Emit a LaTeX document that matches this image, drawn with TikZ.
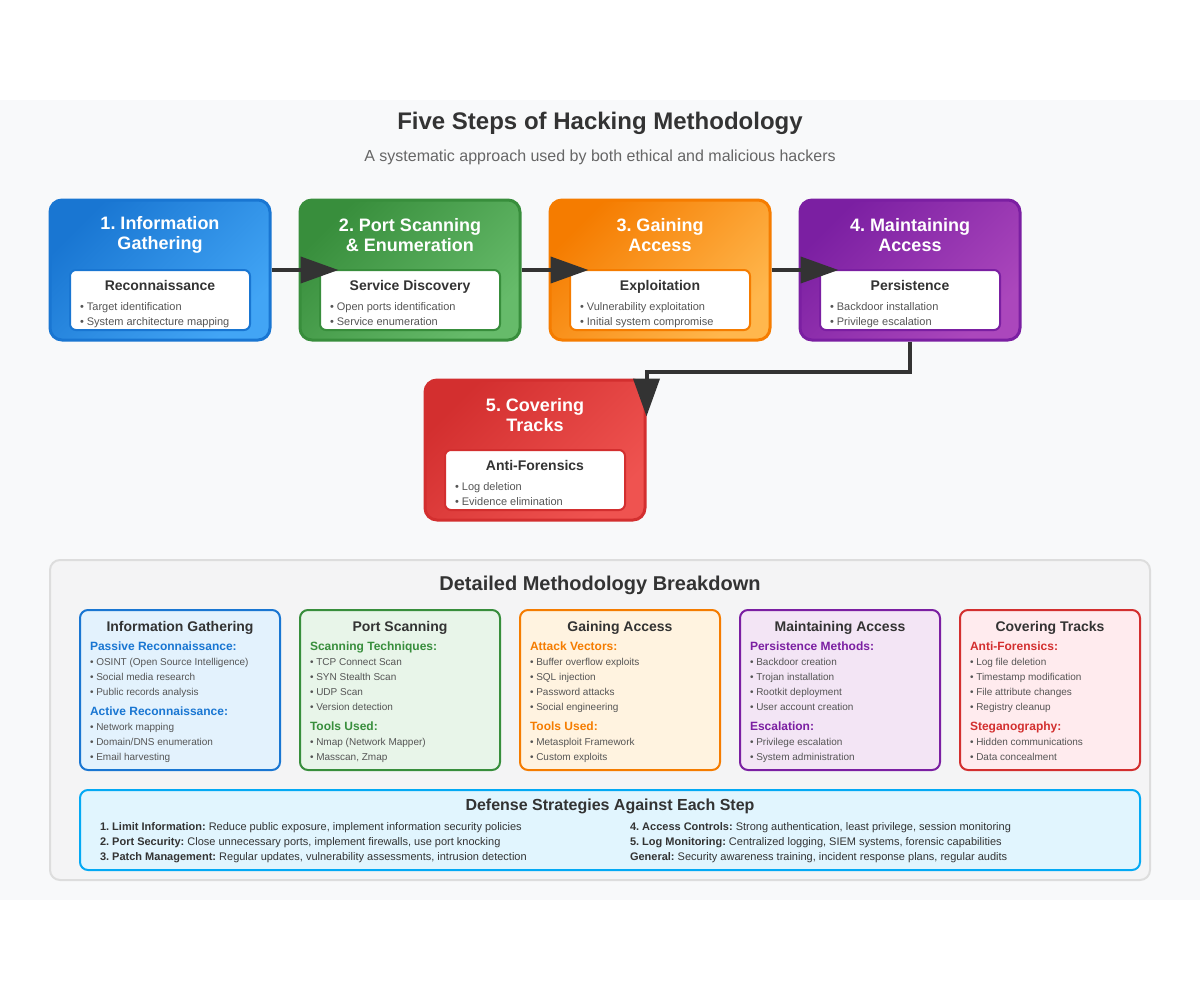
\documentclass[tikz,border=0pt]{standalone}
\usepackage{fontspec}
\setmainfont{Liberation Sans}
\usetikzlibrary{arrows.meta,calc}
\frenchspacing

\definecolor{ink}{HTML}{333333}
\definecolor{soft}{HTML}{666666}
\definecolor{dot}{HTML}{555555}
\definecolor{pagebg}{HTML}{F8F9FA}
\definecolor{panelbg}{HTML}{F4F4F5}
\definecolor{panelrule}{HTML}{DDDDDD}
\definecolor{bluedk}{HTML}{1976D2}
\definecolor{bluelt}{HTML}{42A5F5}
\definecolor{greendk}{HTML}{388E3C}
\definecolor{greenlt}{HTML}{66BB6A}
\definecolor{orangedk}{HTML}{F57C00}
\definecolor{orangelt}{HTML}{FFB74D}
\definecolor{purpledk}{HTML}{7B1FA2}
\definecolor{purplelt}{HTML}{AB47BC}
\definecolor{reddk}{HTML}{D32F2F}
\definecolor{redlt}{HTML}{EF5350}
\definecolor{bluebg}{HTML}{E3F2FD}
\definecolor{greenbg}{HTML}{E8F5E9}
\definecolor{orangebg}{HTML}{FFF3E0}
\definecolor{purplebg}{HTML}{F3E5F5}
\definecolor{redbg}{HTML}{FFEBEE}
\definecolor{cyanbg}{HTML}{E1F5FE}
\definecolor{cyandk}{HTML}{03A9F4}

% one step card: name, x, y, dark, light, title, subtitle, bullet 1, bullet 2
\newcommand\stepcard[9]{%
  \node[stepbox={#4}{#5}] (#1) at (#2,#3) {};
  \node[steptitle] (#1-title) at ($(#1)+(0,-35)$) {#6};
  \node[innerbox=#4] (#1-inner) at ($(#1)+(0,30)$) {};
  \node[innertitle] (#1-head) at ($(#1)+(0,17)$) {#7};
  \node[stepitem] (#1-b1) at ($(#1)+(-80,37)$) {• #8};
  \node[stepitem] (#1-b2) at ($(#1)+(-80,52)$) {• #9};
}
% one line of a breakdown card: name, x, y, text
\newcommand\ditem[4]{\node[detitem] (#1) at (#2,#3) {• #4};}
\newcommand\dhead[5]{\node[dethead, text=#5] (#1) at (#2,#3) {#4};}

\begin{document}
\begin{tikzpicture}[x=0.75pt,y=-0.75pt,
  txt/.style={inner sep=0pt, outer sep=0pt},
  stepbox/.style 2 args={draw=#1, line width=2.25pt, rounded corners=9pt,
    minimum width=165pt, minimum height=105pt, inner sep=0pt,
    left color=#1, right color=#2, shading angle=45},
  steptitle/.style={txt, text=white, align=center,
    font=\bfseries\fontsize{13.5}{15}\selectfont},
  innerbox/.style={draw=#1, fill=white, line width=1.5pt, rounded corners=4.5pt,
    minimum width=135pt, minimum height=45pt, inner sep=0pt},
  innertitle/.style={txt, text=ink, anchor=mid, font=\bfseries\fontsize{10.5}{12}\selectfont},
  stepitem/.style={txt, text=dot, anchor=mid west, font=\fontsize{8.25}{10}\selectfont},
  detbox/.style 2 args={draw=#1, fill=#2, line width=1.5pt, rounded corners=6pt,
    minimum height=120pt, inner sep=0pt},
  dettitle/.style={txt, text=ink, anchor=mid, font=\bfseries\fontsize{10.5}{12}\selectfont},
  dethead/.style={txt, anchor=mid west, font=\bfseries\fontsize{9}{11}\selectfont},
  detitem/.style={txt, text=dot, anchor=mid west, font=\fontsize{7.5}{9}\selectfont},
  defline/.style={txt, text=ink, anchor=mid west, font=\fontsize{8.25}{10}\selectfont},
  flow/.style={draw=ink, line width=3pt, -{Triangle[length=28.5pt,width=19.5pt]}}
]
\useasboundingbox (0,0) rectangle (1200,1000);
\fill[white] (0,0) rectangle (1200,1000);
\fill[pagebg] (0,100) rectangle (1200,900);

% heading
\node[txt, text=ink, anchor=mid, font=\bfseries\fontsize{18}{22}\selectfont] (title) at (600,126)
  {Five Steps of Hacking Methodology};
\node[txt, text=soft, anchor=mid, font=\fontsize{12}{14}\selectfont] (subtitle) at (600,158)
  {A systematic approach used by both ethical and malicious hackers};

% the five steps
\stepcard{s1}{160}{270}{bluedk}{bluelt}{1. Information\\Gathering}{Reconnaissance}
  {Target identification}{System architecture mapping}
\stepcard{s2}{410}{270}{greendk}{greenlt}{2. Port Scanning\\\& Enumeration}{Service Discovery}
  {Open ports identification}{Service enumeration}
\stepcard{s3}{660}{270}{orangedk}{orangelt}{3. Gaining\\Access}{Exploitation}
  {Vulnerability exploitation}{Initial system compromise}
\stepcard{s4}{910}{270}{purpledk}{purplelt}{4. Maintaining\\Access}{Persistence}
  {Backdoor installation}{Privilege escalation}
\stepcard{s5}{535}{450}{reddk}{redlt}{5. Covering\\Tracks}{Anti-Forensics}
  {Log deletion}{Evidence elimination}

% flow between the steps
\draw[flow] (s1.east) -- ($(s2.west)+(40,0)$);
\draw[flow] (s2.east) -- ($(s3.west)+(40,0)$);
\draw[flow] (s3.east) -- ($(s4.west)+(40,0)$);
\draw[flow] (s4.south) -- ++(0,30) -| ($(s5.north east)+(0,38)$);

% breakdown panel
\node[draw=panelrule, fill=panelbg, line width=1.5pt, rounded corners=7.5pt,
  minimum width=825pt, minimum height=240pt, inner sep=0pt] (panel) at (600,720) {};
\node[txt, text=ink, anchor=mid, font=\bfseries\fontsize{15}{18}\selectfont] (paneltitle)
  at (600,587) {Detailed Methodology Breakdown};

% card 1
\node[detbox={bluedk}{bluebg}, minimum width=150pt] (d1) at (180,690) {};
\node[dettitle] (d1-title) at (180,628) {Information Gathering};
\dhead{d1-h1}{90}{647}{Passive Reconnaissance:}{bluedk}
\ditem{d1-a}{90}{662}{OSINT (Open Source Intelligence)}
\ditem{d1-b}{90}{677}{Social media research}
\ditem{d1-c}{90}{692}{Public records analysis}
\dhead{d1-h2}{90}{712}{Active Reconnaissance:}{bluedk}
\ditem{d1-d}{90}{727}{Network mapping}
\ditem{d1-e}{90}{742}{Domain/DNS enumeration}
\ditem{d1-f}{90}{757}{Email harvesting}

% card 2
\node[detbox={greendk}{greenbg}, minimum width=150pt] (d2) at (400,690) {};
\node[dettitle] (d2-title) at (400,628) {Port Scanning};
\dhead{d2-h1}{310}{647}{Scanning Techniques:}{greendk}
\ditem{d2-a}{310}{662}{TCP Connect Scan}
\ditem{d2-b}{310}{677}{SYN Stealth Scan}
\ditem{d2-c}{310}{692}{UDP Scan}
\ditem{d2-d}{310}{707}{Version detection}
\dhead{d2-h2}{310}{727}{Tools Used:}{greendk}
\ditem{d2-e}{310}{742}{Nmap (Network Mapper)}
\ditem{d2-f}{310}{757}{Masscan, Zmap}

% card 3
\node[detbox={orangedk}{orangebg}, minimum width=150pt] (d3) at (620,690) {};
\node[dettitle] (d3-title) at (620,628) {Gaining Access};
\dhead{d3-h1}{530}{647}{Attack Vectors:}{orangedk}
\ditem{d3-a}{530}{662}{Buffer overflow exploits}
\ditem{d3-b}{530}{677}{SQL injection}
\ditem{d3-c}{530}{692}{Password attacks}
\ditem{d3-d}{530}{707}{Social engineering}
\dhead{d3-h2}{530}{727}{Tools Used:}{orangedk}
\ditem{d3-e}{530}{742}{Metasploit Framework}
\ditem{d3-f}{530}{757}{Custom exploits}

% card 4
\node[detbox={purpledk}{purplebg}, minimum width=150pt] (d4) at (840,690) {};
\node[dettitle] (d4-title) at (840,628) {Maintaining Access};
\dhead{d4-h1}{750}{647}{Persistence Methods:}{purpledk}
\ditem{d4-a}{750}{662}{Backdoor creation}
\ditem{d4-b}{750}{677}{Trojan installation}
\ditem{d4-c}{750}{692}{Rootkit deployment}
\ditem{d4-d}{750}{707}{User account creation}
\dhead{d4-h2}{750}{727}{Escalation:}{purpledk}
\ditem{d4-e}{750}{742}{Privilege escalation}
\ditem{d4-f}{750}{757}{System administration}

% card 5
\node[detbox={reddk}{redbg}, minimum width=135pt] (d5) at (1050,690) {};
\node[dettitle] (d5-title) at (1050,628) {Covering Tracks};
\dhead{d5-h1}{970}{647}{Anti-Forensics:}{reddk}
\ditem{d5-a}{970}{662}{Log file deletion}
\ditem{d5-b}{970}{677}{Timestamp modification}
\ditem{d5-c}{970}{692}{File attribute changes}
\ditem{d5-d}{970}{707}{Registry cleanup}
\dhead{d5-h2}{970}{727}{Steganography:}{reddk}
\ditem{d5-e}{970}{742}{Hidden communications}
\ditem{d5-f}{970}{757}{Data concealment}

% defence strategies
\node[draw=cyandk, fill=cyanbg, line width=1.5pt, rounded corners=6pt,
  minimum width=795pt, minimum height=60pt, inner sep=0pt] (defense) at (610,830) {};
\node[txt, text=ink, anchor=mid, font=\bfseries\fontsize{12}{14}\selectfont] (defense-title)
  at (610,807) {Defense Strategies Against Each Step};
\node[defline] (def1) at (100,827) {\textbf{1. Limit Information:} Reduce public exposure, implement information security policies};
\node[defline] (def2) at (100,842) {\textbf{2. Port Security:} Close unnecessary ports, implement firewalls, use port knocking};
\node[defline] (def3) at (100,857) {\textbf{3. Patch Management:} Regular updates, vulnerability assessments, intrusion detection};
\node[defline] (def4) at (630,827) {\textbf{4. Access Controls:} Strong authentication, least privilege, session monitoring};
\node[defline] (def5) at (630,842) {\textbf{5. Log Monitoring:} Centralized logging, SIEM systems, forensic capabilities};
\node[defline] (def6) at (630,857) {\textbf{General:} Security awareness training, incident response plans, regular audits};
\end{tikzpicture}
\end{document}
